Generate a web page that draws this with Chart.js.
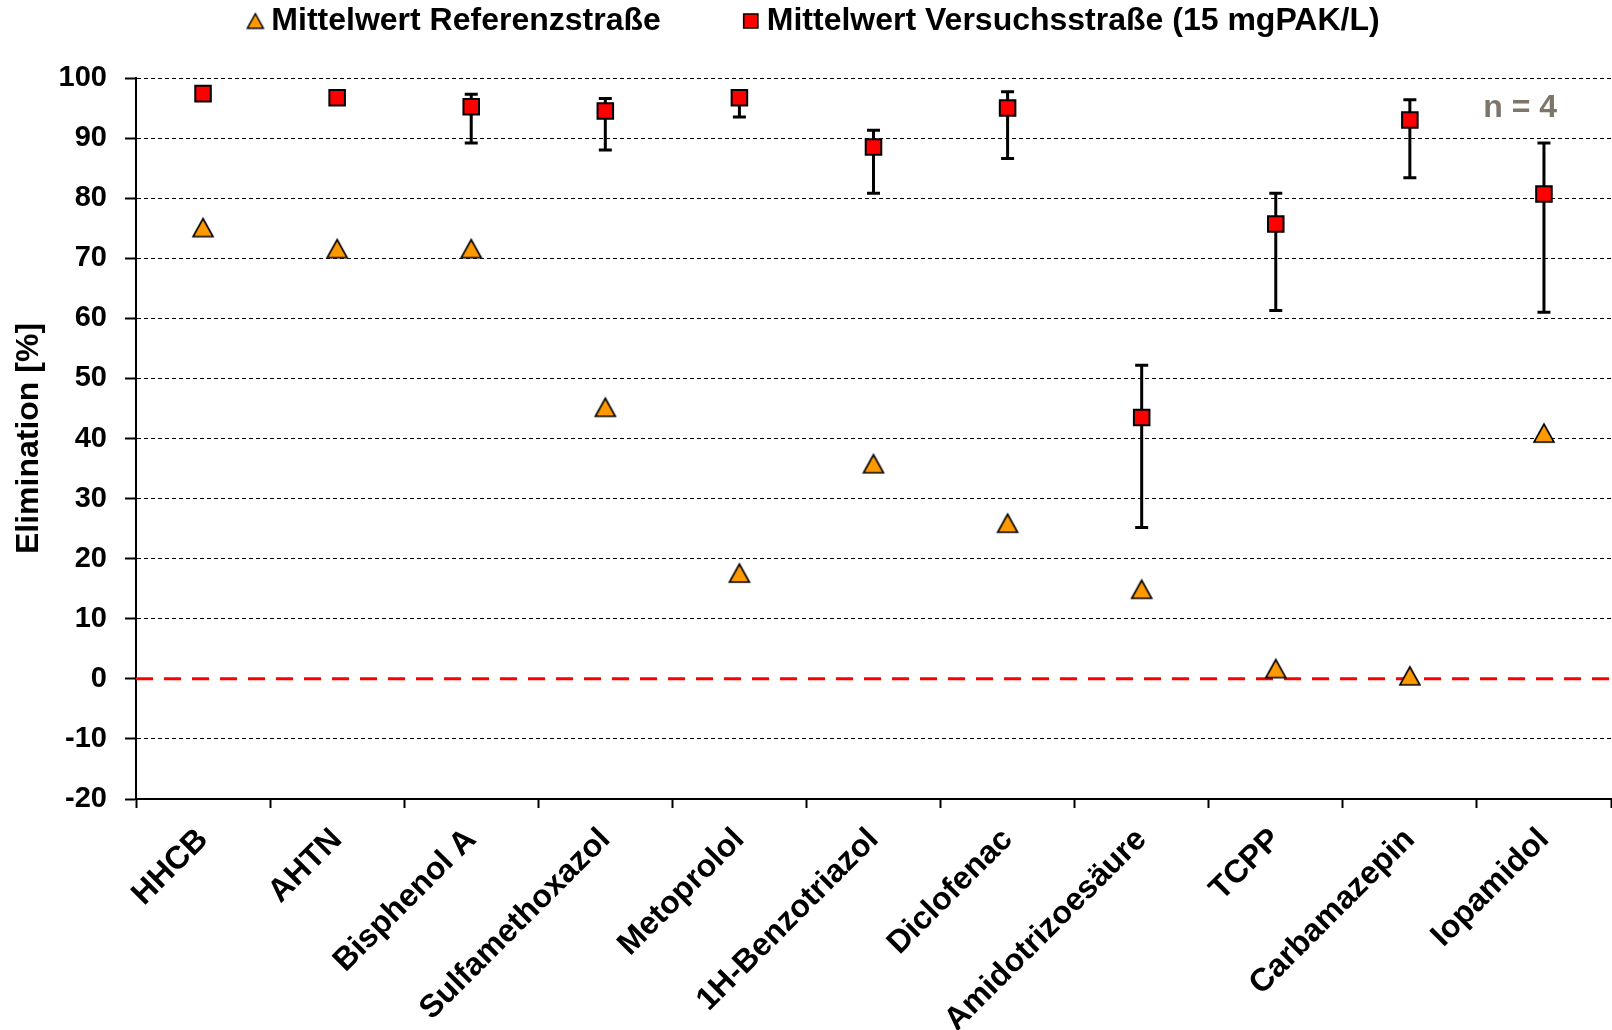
<!DOCTYPE html>
<html lang="de">
<head>
<meta charset="utf-8">
<title>Elimination – Referenzstraße vs. Versuchsstraße</title>
<script src="https://cdn.jsdelivr.net/npm/chart.js@4.4.1/dist/chart.umd.min.js"></script>
<style>
  html, body { margin: 0; padding: 0; background: #ffffff; }
  #wrap { position: relative; width: 1612px; height: 1030px; }
</style>
</head>
<body>
<div id="wrap"><canvas id="chart"></canvas></div>
<script>
// Substances on the x axis
const categories = ['HHCB', 'AHTN', 'Bisphenol A', 'Sulfamethoxazol', 'Metoprolol',
  '1H-Benzotriazol', 'Diclofenac', 'Amidotrizoesäure', 'TCPP', 'Carbamazepin', 'Iopamidol'];

// Series names
const seriesLabels = ['Mittelwert Referenzstraße', 'Mittelwert Versuchsstraße (15 mgPAK/L)'];

// Mean elimination in %, reference line
const referenzMean = [75.1, 71.6, 71.6, 45.2, 17.6, 35.8, 25.9, 14.9, 1.7, 0.5, 40.9];

// Mean elimination in %, test line with 15 mg PAK/L
const versuchMean = [97.4, 96.7, 95.2, 94.5, 96.7, 88.5, 95.0, 43.5, 75.7, 93.0, 80.7];

// Range of the single values for the test line (error bars)
const versuchMax = [null, null, 97.3, 96.6, 97.4, 91.3, 97.7, 52.2, 80.8, 96.4, 89.2];
const versuchMin = [null, null, 89.2, 88.0, 93.5, 80.8, 86.6, 25.2, 61.3, 83.4, 61.0];

// Y axis ticks
const yTickValues = [-20, -10, 0, 10, 20, 30, 40, 50, 60, 70, 80, 90, 100];

// Texts
const yAxisTitle = 'Elimination [%]';
const sampleNote = 'n = 4';

const FONT = '"Liberation Sans", Arial, Helvetica, sans-serif';
Chart.defaults.font.family = FONT;
Chart.defaults.font.weight = 'bold';
Chart.defaults.color = '#000000';

// Triangle marker sprite whose bounding box is centred on the data point
function triangleSprite(base, height, fill, stroke, lw) {
  const pad = Math.ceil(lw) + 1;
  const c = document.createElement('canvas');
  c.width = Math.ceil(base + 2 * pad);
  c.height = Math.ceil(height + 2 * pad);
  const g = c.getContext('2d');
  const cx = c.width / 2, cy = c.height / 2;
  g.beginPath();
  g.moveTo(cx, cy - height / 2);
  g.lineTo(cx + base / 2, cy + height / 2);
  g.lineTo(cx - base / 2, cy + height / 2);
  g.closePath();
  g.fillStyle = fill;
  g.fill();
  g.lineJoin = 'miter';
  g.lineWidth = lw;
  g.strokeStyle = stroke;
  g.stroke();
  return c;
}
const triangleMarker = triangleSprite(20, 18, '#FF9900', '#000000', 1.6);
const triangleLegend = triangleSprite(16, 14.5, '#FF9900', '#000000', 1.5);

// Red dashed zero line and min/max whiskers, drawn beneath the markers
const errorBars = {
  id: 'errorBars',
  beforeDatasetsDraw(chart) {
    const { ctx, chartArea } = chart;
    const xs = chart.scales.x, ys = chart.scales.y;
    const y0 = ys.getPixelForValue(0);
    ctx.save();
    ctx.strokeStyle = '#FF0000';
    ctx.lineWidth = 3;
    ctx.setLineDash([17, 11]);
    ctx.beginPath();
    ctx.moveTo(chartArea.left, y0);
    ctx.lineTo(chartArea.right, y0);
    ctx.stroke();
    ctx.restore();

    ctx.save();
    ctx.strokeStyle = '#000000';
    ctx.lineWidth = 3;
    const cap = 6.5;
    categories.forEach((c, i) => {
      if (versuchMin[i] == null || versuchMax[i] == null) return;
      const px = xs.getPixelForValue(i);
      const top = ys.getPixelForValue(versuchMax[i]);
      const bot = ys.getPixelForValue(versuchMin[i]);
      ctx.beginPath();
      ctx.moveTo(px, top); ctx.lineTo(px, bot);
      ctx.moveTo(px - cap, top); ctx.lineTo(px + cap, top);
      ctx.moveTo(px - cap, bot); ctx.lineTo(px + cap, bot);
      ctx.stroke();
    });
    ctx.restore();
  }
};

// One-row legend above the plot, built from the datasets
const legendRow = {
  id: 'legendRow',
  afterDraw(chart, args, opts) {
    const ctx = chart.ctx;
    ctx.save();
    ctx.font = 'bold ' + opts.fontSize + 'px ' + FONT;
    ctx.textBaseline = 'middle';
    ctx.textAlign = 'left';
    const items = chart.data.datasets.map(ds => ({ ds, w: ctx.measureText(ds.label).width }));
    let total = opts.markerHalf;
    items.forEach((it, i) => { total += (i ? opts.itemGap : 0) + opts.textGap + it.w; });
    let x = opts.centerX - total / 2 + opts.markerHalf;
    const y = opts.y;
    items.forEach((it, i) => {
      if (i) x += opts.itemGap;
      const ds = it.ds;
      const sprite = opts.markers[i];
      ctx.fillStyle = ds.pointBackgroundColor;
      ctx.strokeStyle = ds.pointBorderColor;
      ctx.lineWidth = 1.6;
      Chart.helpers.drawPoint(ctx, {
        pointStyle: sprite || ds.pointStyle,
        radius: opts.rectRadius,
        borderWidth: 1.6,
        rotation: 0
      }, x, y);
      ctx.fillStyle = '#000000';
      ctx.fillText(ds.label, x + opts.textGap, y);
      x += opts.textGap + it.w;
    });
    ctx.restore();
  }
};

// Sample size note in the upper right corner of the plot
const note = {
  id: 'note',
  afterDraw(chart, args, opts) {
    const ctx = chart.ctx;
    ctx.save();
    ctx.font = 'bold 32px ' + FONT;
    ctx.fillStyle = opts.color;
    ctx.textAlign = 'right';
    ctx.textBaseline = 'middle';
    ctx.fillText(opts.text, chart.chartArea.right - 54, chart.scales.y.getPixelForValue(95));
    ctx.restore();
  }
};

new Chart(document.getElementById('chart'), {
  type: 'line',
  data: {
    labels: categories,
    datasets: [
      {
        label: seriesLabels[0],
        data: referenzMean,
        showLine: false,
        pointStyle: triangleMarker,
        pointRadius: 11,
        pointBackgroundColor: '#FF9900',
        pointBorderColor: '#000000',
        pointBorderWidth: 1.6
      },
      {
        label: seriesLabels[1],
        data: versuchMean,
        showLine: false,
        pointStyle: 'rect',
        pointRadius: 11,
        pointBackgroundColor: '#FF0000',
        pointBorderColor: '#000000',
        pointBorderWidth: 2
      }
    ]
  },
  options: {
    responsive: true,
    maintainAspectRatio: false,
    animation: false,
    events: [],
    layout: { autoPadding: false, padding: { top: 78, left: 0, right: 1, bottom: 0 } },
    plugins: {
      legend: { display: false },
      tooltip: { enabled: false },
      legendRow: { fontSize: 32, y: 21, centerX: 813, markerHalf: 9, textGap: 16, itemGap: 90,
        rectRadius: 10, markers: [triangleLegend, null] },
      note: { text: sampleNote, color: '#7d7569' }
    },
    scales: {
      x: {
        offset: true,
        grid: {
          offset: true,
          drawOnChartArea: false,
          drawTicks: true,
          tickLength: 9,
          tickWidth: 2,
          tickColor: '#000000'
        },
        border: { display: true, color: '#000000', width: 2 },
        ticks: {
          autoSkip: false,
          minRotation: 45,
          maxRotation: 45,
          padding: 13,
          color: '#000000',
          font: { size: 32, weight: 'bold' }
        },
        afterFit: s => { s.height = 231; s.paddingLeft = 0; s.paddingRight = 0; }
      },
      y: {
        min: -20,
        max: 100,
        afterBuildTicks: s => { s.ticks = yTickValues.map(v => ({ value: v })); },
        grid: {
          color: c => (c.tick && c.tick.value === 0) ? 'rgba(0,0,0,0)' : '#000000',
          lineWidth: 1,
          drawTicks: true,
          tickLength: 11,
          tickWidth: 2,
          tickColor: '#000000',
          tickBorderDash: []
        },
        border: { display: true, color: '#000000', width: 2, dash: [4, 3] },
        ticks: {
          padding: 18,
          color: '#000000',
          font: { size: 29, weight: 'bold' }
        },
        title: {
          display: true,
          text: yAxisTitle,
          color: '#000000',
          font: { size: 32, weight: 'bold', lineHeight: 1.2 },
          padding: { top: 10, bottom: 0 }
        },
        afterFit: s => { s.width = 136; }
      }
    }
  },
  plugins: [errorBars, legendRow, note]
});
</script>
</body>
</html>
